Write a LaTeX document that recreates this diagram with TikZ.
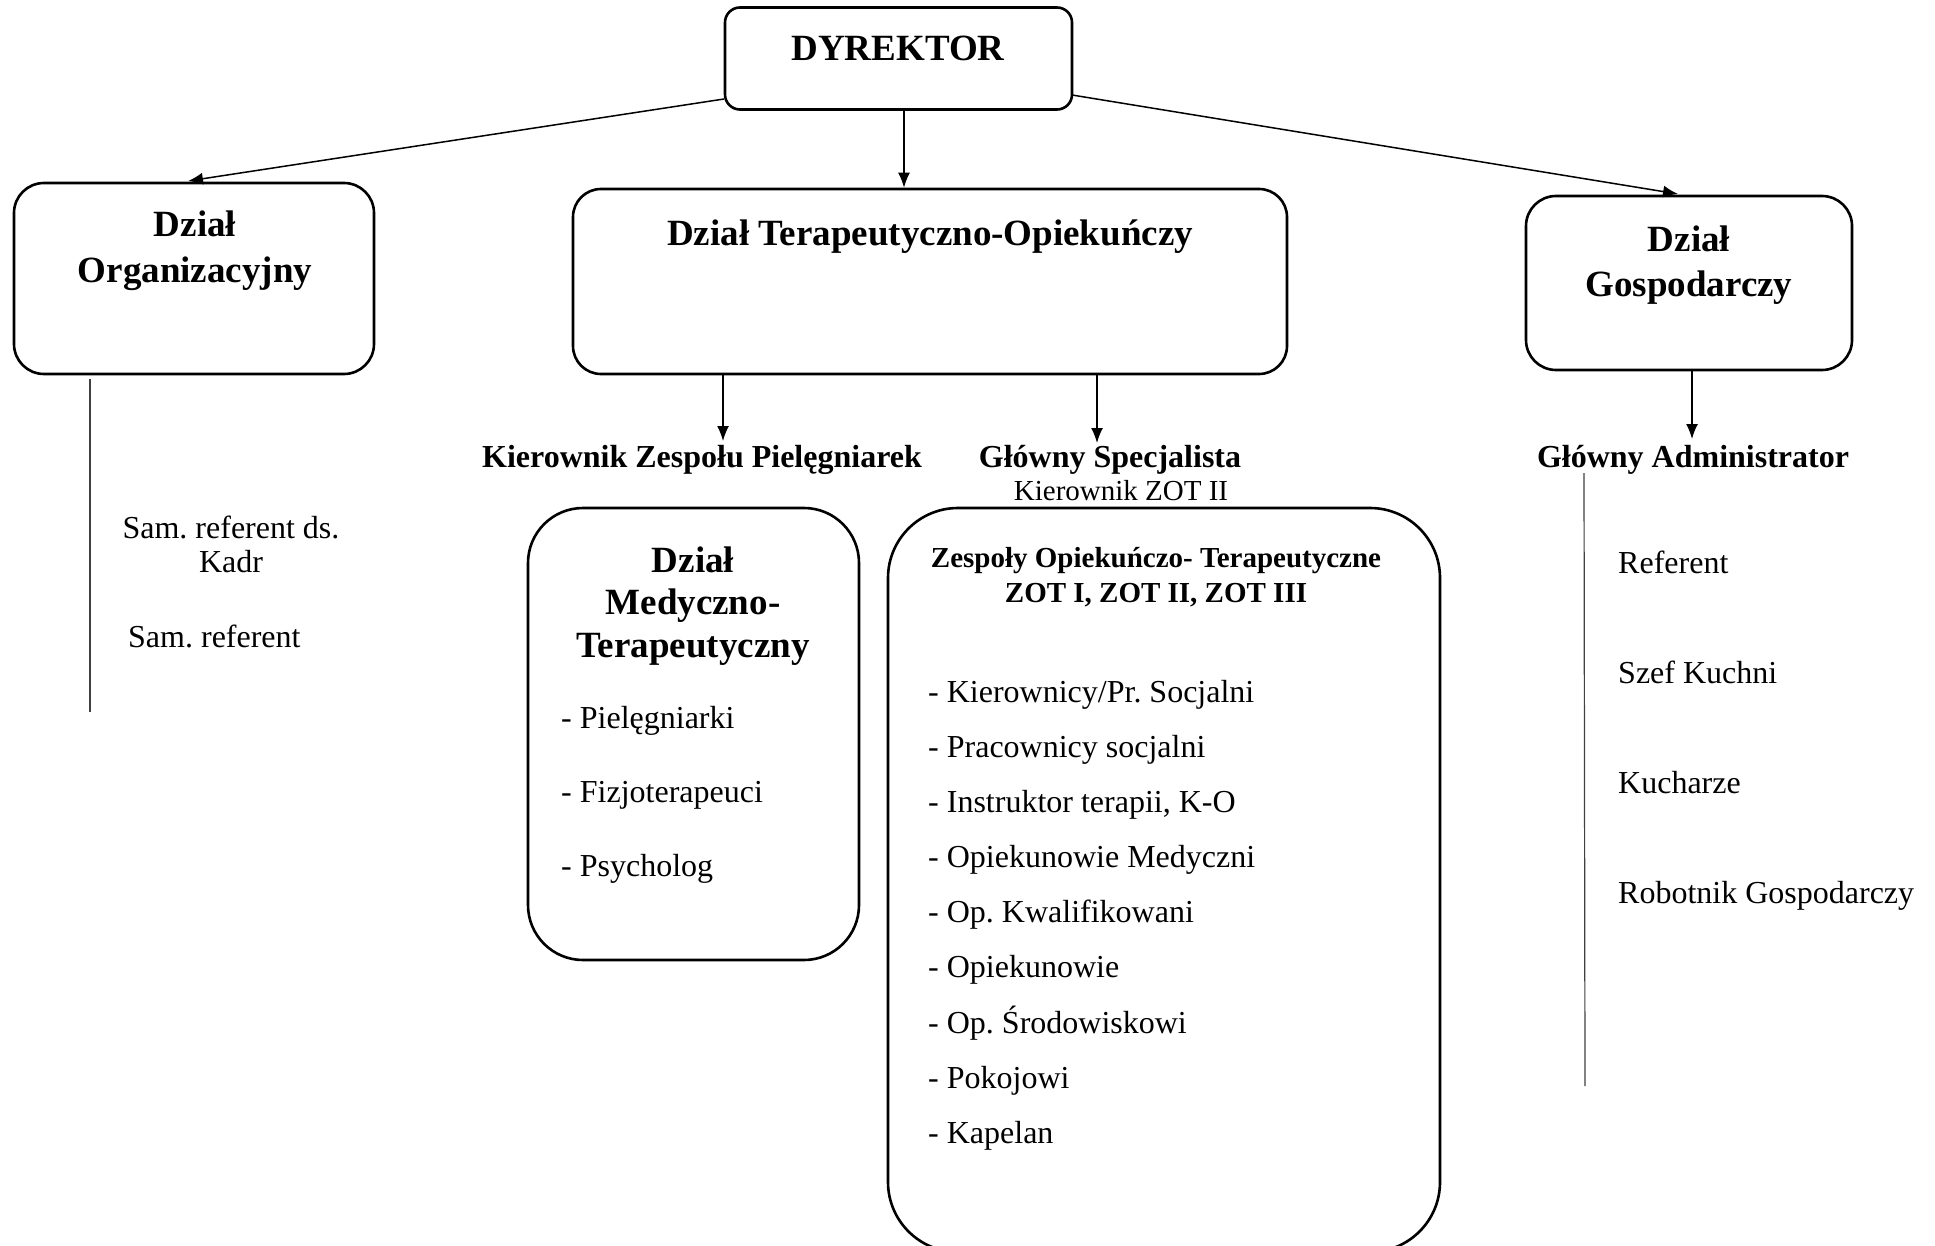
\documentclass[tikz,border=0pt]{standalone}
\usepackage{fontspec}
\setmainfont{Liberation Serif}
\usetikzlibrary{arrows.meta}
\begin{document}
\frenchspacing
\begin{tikzpicture}[x=1pt,y=-1pt,
  box/.style={draw, line width=2.6pt, rounded corners=#1, inner sep=0pt},
  conn/.style={line width=1.5pt, -{Latex[length=15pt,width=12pt]}},
  vline/.style={line width=1.2pt, black!75},
  ttl/.style={font=\fontsize{37}{45}\selectfont\bfseries, align=center, inner sep=0pt},
  ttl1/.style={font=\fontsize{37}{45}\selectfont\bfseries, inner sep=0pt, text height=25pt, text depth=0pt},
  sub/.style={font=\fontsize{32}{38}\selectfont\bfseries, inner sep=0pt, text height=21.8pt, text depth=0pt},
  small/.style={font=\fontsize{29}{35}\selectfont\bfseries, align=center, inner sep=0pt},
  smallr/.style={font=\fontsize{29}{35}\selectfont, inner sep=0pt, text height=19.7pt, text depth=0pt},
  item/.style={font=\fontsize{32}{36}\selectfont, inner sep=0pt, anchor=west, text height=21.8pt, text depth=0pt},
]
\useasboundingbox[fill=white] (0,0) rectangle (1935,1246);
\begin{scope}
\clip (0,0) rectangle (1935,1246);
% boxes
\node[box=15pt, minimum width=347pt, minimum height=102pt] (dyr) at (898.5,58.5) {};
\node[box=30pt, minimum width=360pt, minimum height=191pt] (org) at (194,278.5) {};
\node[box=28pt, minimum width=714pt, minimum height=185pt] (ter) at (930,281.5) {};
\node[box=30pt, minimum width=326pt, minimum height=174pt] (gos) at (1689,283) {};
\node[box=55pt, minimum width=331pt, minimum height=452pt] (med) at (693.5,734) {};
\node[box=70pt, minimum width=552pt, minimum height=744pt] (zot) at (1164,880) {};
\end{scope}
% titles
\node[ttl1] (tdyr) at (898,48) {DYREKTOR};
\node[ttl, font=\fontsize{37}{46}\selectfont\bfseries] (torg) at (195,251) {Dział\\Organizacyjny};
\node[ttl1] (tter) at (930,233) {Dział Terapeutyczno-Opiekuńczy};
\node[ttl] (tgos) at (1689,265) {Dział\\Gospodarczy};
\node[ttl, font=\fontsize{37}{42.5}\selectfont\bfseries] (tmed) at (693,606) {Dział\\Medyczno-\\Terapeutyczny};
\node[small] (tzot) at (1156,577) {Zespoły Opiekuńczo- Terapeutyczne\\ZOT I, ZOT II, ZOT III};
% sub labels
\node[sub] (kzp) at (702,457) {Kierownik Zespołu Pielęgniarek};
\node[sub] (gsp) at (1110,457) {Główny Specjalista};
\node[smallr] (kzot) at (1121,491) {Kierownik ZOT II};
\node[sub] (gad) at (1693,457) {Główny Administrator};
% connectors
\coordinate (dl) at (724,99);
\coordinate (dr) at (1072,95);
\coordinate (al) at (188,181);
\coordinate (ar) at (1678,194);
\draw[conn] (dl) -- (al);
\draw[conn] (dyr.south -| 904,0) -- (ter.north -| 904,0);
\draw[conn] (dr) -- (ar);
\coordinate (k1) at (723,441);
\coordinate (k2) at (1097,443);
\coordinate (k3) at (1692,439);
\draw[conn] (ter.south -| k1) -- (k1);
\draw[conn] (ter.south -| k2) -- (k2);
\draw[conn] (gos.south -| k3) -- (k3);
% vertical lines
\coordinate (vl1) at (90,379);
\coordinate (vl2) at (90,712);
\draw[vline] (vl1) -- (vl2);
\coordinate (vr1) at (1584,473);
\coordinate (vr2) at (1585,1086);
\draw[vline] (vr1) -- (vr2);
% left items
\node[font=\fontsize{32}{34}\selectfont, align=center, inner sep=0pt] (l1) at (231,544) {Sam. referent ds.\\Kadr};
\node[item] (l2) at (128,637) {Sam. referent};
% medical items
\node[item] (m1) at (561,718) {- Pielęgniarki};
\node[item] (m2) at (561,792) {- Fizjoterapeuci};
\node[item] (m3) at (561,866) {- Psycholog};
% zot items
\node[item] (z1) at (928,692) {- Kierownicy/Pr. Socjalni};
\node[item] (z2) at (928,747) {- Pracownicy socjalni};
\node[item] (z3) at (928,802) {- Instruktor terapii, K-O};
\node[item] (z4) at (928,857) {- Opiekunowie Medyczni};
\node[item] (z5) at (928,912) {- Op. Kwalifikowani};
\node[item] (z6) at (928,967) {- Opiekunowie};
\node[item] (z7) at (928,1023) {- Op. Środowiskowi};
\node[item] (z8) at (928,1078) {- Pokojowi};
\node[item] (z9) at (928,1133) {- Kapelan};
% right items
\node[item] (r1) at (1618,563) {Referent};
\node[item] (r2) at (1618,673) {Szef Kuchni};
\node[item] (r3) at (1618,783) {Kucharze};
\node[item] (r4) at (1618,893) {Robotnik Gospodarczy};
\end{tikzpicture}
\end{document}
